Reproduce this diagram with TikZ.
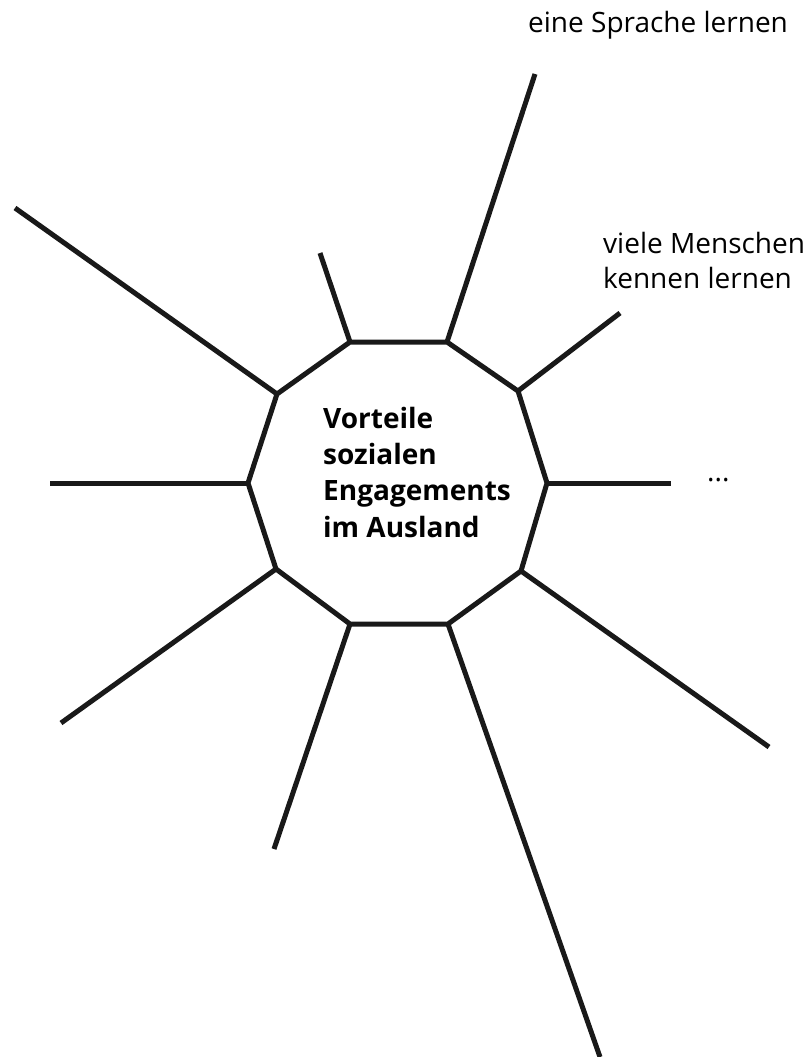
\documentclass[tikz,border=0pt]{standalone}
\usepackage{fontspec}
\setmainfont{Open Sans}
\begin{document}
\begin{tikzpicture}[x=1pt,y=-1pt,
  edge/.style={line width=5pt,draw=black!90,line join=miter,line cap=butt},
  label/.style={inner sep=0pt,anchor=base west,align=left,font=\fontsize{28}{35}\selectfont},
  title/.style={inner sep=0pt,anchor=base west,align=left,font=\fontsize{28}{36.3}\selectfont\bfseries}]
\useasboundingbox[fill=white] (0,0) rectangle (809,1057);
% decagon vertices
\coordinate (v1) at (350,342);
\coordinate (v2) at (447,342);
\coordinate (v3) at (518,391);
\coordinate (v4) at (547,483);
\coordinate (v5) at (521,571);
\coordinate (v6) at (448,624);
\coordinate (v7) at (350,624);
\coordinate (v8) at (276,569);
\coordinate (v9) at (248,483);
\coordinate (v10) at (277,394);
% spoke ends
\coordinate (e1) at (320,253);
\coordinate (e2) at (535,74);
\coordinate (e3) at (620,313);
\coordinate (e4) at (671,483);
\coordinate (e5) at (769,747);
\coordinate (e6) at (600,1057);
\coordinate (e7) at (274,849);
\coordinate (e8) at (61,723);
\coordinate (e9) at (50,483);
\coordinate (e10) at (15,208);
\draw[edge] (v1) -- (v2) -- (v3) -- (v4) -- (v5) -- (v6) -- (v7) -- (v8) -- (v9) -- (v10) -- cycle;
\foreach \i in {1,...,10} {\draw[edge] (v\i) -- (e\i);}
% base anchor of a multi-line node = baseline of its last line
\node[title] (center) at (323,537) {Vorteile\\sozialen\\Engagements\\im Ausland};
\node[label] (sprache) at (528,33) {eine Sprache lernen};
\node[label] (menschen) at (603,288) {viele Menschen\\kennen lernen};
\node[label] (dots) at (707,481) {...};
\end{tikzpicture}
\end{document}
